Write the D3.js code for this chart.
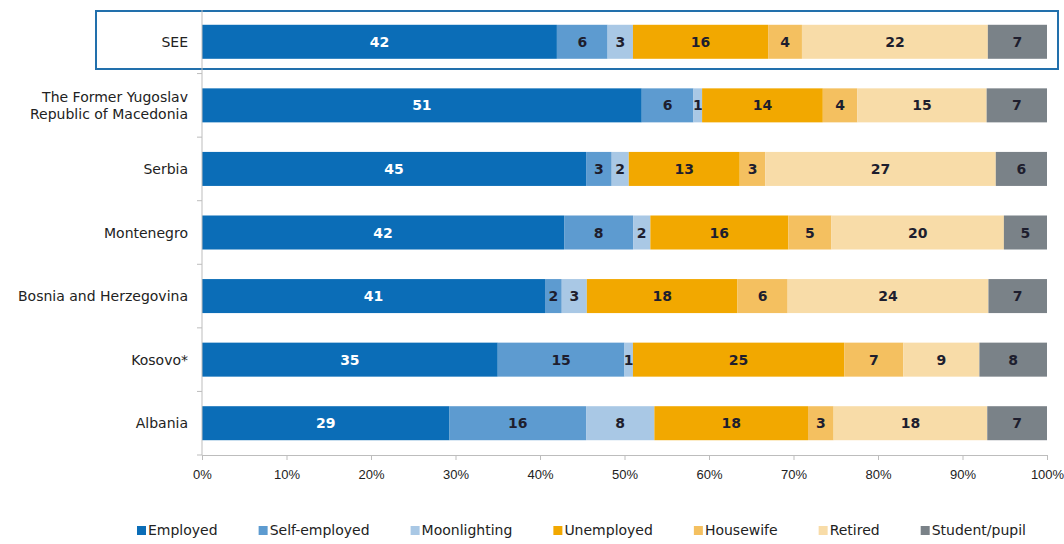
<!DOCTYPE html>
<html>
<head>
<meta charset="utf-8">
<script src="https://cdn.jsdelivr.net/npm/d3@7"></script>
<style>
  body { margin: 0; background: #fff; }
  svg { display: block; font-family: "DejaVu Sans", Tahoma, sans-serif; }
</style>
</head>
<body>
<div id="chart"></div>
<script>
// data
var countries = ["SEE", "The Former Yugoslav|Republic of Macedonia", "Serbia", "Montenegro",
  "Bosnia and Herzegovina", "Kosovo*", "Albania"];
var categories = ["Employed", "Self-employed", "Moonlighting", "Unemployed", "Housewife", "Retired", "Student/pupil"];
var employed     = [42, 51, 45, 42, 41, 35, 29];
var selfEmployed = [6, 6, 3, 8, 2, 15, 16];
var moonlighting = [3, 1, 2, 2, 3, 1, 8];
var unemployed   = [16, 14, 13, 16, 18, 25, 18];
var housewife    = [4, 4, 3, 5, 6, 7, 3];
var retired      = [22, 15, 27, 20, 24, 9, 18];
var student      = [7, 7, 6, 5, 7, 8, 7];
var xTicks = [0, 0.1, 0.2, 0.3, 0.4, 0.5, 0.6, 0.7, 0.8, 0.9, 1];

var colors = ["#0b6db7", "#5d9bd0", "#a9c8e5", "#f2a800", "#f4c060", "#f8dca8", "#7a8288"];
var series = [employed, selfEmployed, moonlighting, unemployed, housewife, retired, student];

var rows = countries.map(function(c, i) {
  var r = { country: c };
  categories.forEach(function(k, j) { r[k] = series[j][i]; });
  return r;
});

var W = 1064, H = 544;
var mLeft = 202, mRight = 1047, mTop = 10, mBottom = 455;

var svg = d3.select("#chart").append("svg").attr("width", W).attr("height", H);

var x = d3.scaleLinear().domain([0, 1]).range([mLeft, mRight]);
var y = d3.scaleBand().domain(countries).range([mTop, mBottom]).paddingInner(0.465).paddingOuter(0.2325);
var yb = d3.scaleBand().domain(countries).range([mTop, mBottom]);

var stack = d3.stack().keys(categories).offset(d3.stackOffsetExpand);
var stacked = stack(rows);

// highlight box around SEE
svg.append("rect")
  .attr("x", 96).attr("y", 11).attr("width", 962).attr("height", 58)
  .attr("fill", "none").attr("stroke", "#2270ac").attr("stroke-width", 2);

var layers = svg.selectAll("g.layer")
  .data(stacked)
  .enter()
  .append("g")
  .attr("class", "layer")
  .attr("fill", function(d, i) { return colors[i]; });

layers.selectAll("rect")
  .data(function(d) { return d; })
  .enter()
  .append("rect")
  .attr("x", function(d) { return x(d[0]); })
  .attr("y", function(d) { return y(d.data.country); })
  .attr("width", function(d) { return x(d[1]) - x(d[0]); })
  .attr("height", y.bandwidth());

layers.selectAll("text")
  .data(function(d) { return d.map(function(p) { p.key = d.key; return p; }); })
  .enter()
  .append("text")
  .attr("x", function(d) { return (x(d[0]) + x(d[1])) / 2; })
  .attr("y", function(d) { return y(d.data.country) + y.bandwidth() / 2; })
  .attr("dy", "0.36em")
  .attr("text-anchor", "middle")
  .style("font-size", "14px")
  .style("font-weight", "bold")
  .attr("fill", function(d) { return d.key === "Employed" ? "#ffffff" : "#1e1e2e"; })
  .text(function(d) { return d.data[d.key]; });

// axes
var xAxis = d3.axisBottom(x).tickValues(xTicks).tickFormat(d3.format(".0%")).tickSize(5).tickSizeOuter(0);
var gx = svg.append("g").attr("transform", "translate(0," + mBottom + ")").call(xAxis);
gx.select(".domain").attr("stroke", "#bdbdbd");
gx.selectAll(".tick line").attr("stroke", "#bdbdbd");
gx.selectAll(".tick text").attr("fill", "#222").style("font-size", "13px").attr("dy", "1.25em");

var gy = svg.append("g").attr("transform", "translate(" + mLeft + ",0)");
gy.append("line").attr("x1", 0).attr("x2", 0).attr("y1", mTop).attr("y2", mBottom).attr("stroke", "#bdbdbd");
gy.selectAll("line.tk")
  .data(countries)
  .enter()
  .append("line")
  .attr("class", "tk")
  .attr("x1", -5).attr("x2", 0)
  .attr("y1", function(d) { return yb(d) + yb.bandwidth(); })
  .attr("y2", function(d) { return yb(d) + yb.bandwidth(); })
  .attr("stroke", "#bdbdbd");

var labels = gy.selectAll("text.cat")
  .data(countries)
  .enter()
  .append("text")
  .attr("class", "cat")
  .attr("text-anchor", "end")
  .attr("x", -14)
  .attr("y", function(d) { return y(d) + y.bandwidth() / 2; })
  .attr("fill", "#222")
  .style("font-size", "14px");

labels.each(function(d) {
  var parts = d.split("|");
  var t = d3.select(this);
  parts.forEach(function(p, i) {
    t.append("tspan")
      .attr("x", -14)
      .attr("dy", i === 0 ? (0.36 - (parts.length - 1) * 0.6) + "em" : "1.2em")
      .text(p);
  });
});

// legend
var legend = svg.append("g").attr("transform", "translate(0,535)");
var items = legend.selectAll("g")
  .data(categories)
  .enter()
  .append("g");
items.append("rect")
  .attr("width", 9).attr("height", 9).attr("y", -9)
  .attr("fill", function(d, i) { return colors[i]; });
items.append("text")
  .attr("x", 11)
  .attr("y", 0)
  .style("font-size", "14px")
  .attr("fill", "#222")
  .text(function(d) { return d; });

var lx = 137;
items.each(function() {
  var g = d3.select(this);
  g.attr("transform", "translate(" + lx + ",0)");
  lx += 11 + g.select("text").node().getComputedTextLength() + 41;
});
</script>
</body>
</html>
